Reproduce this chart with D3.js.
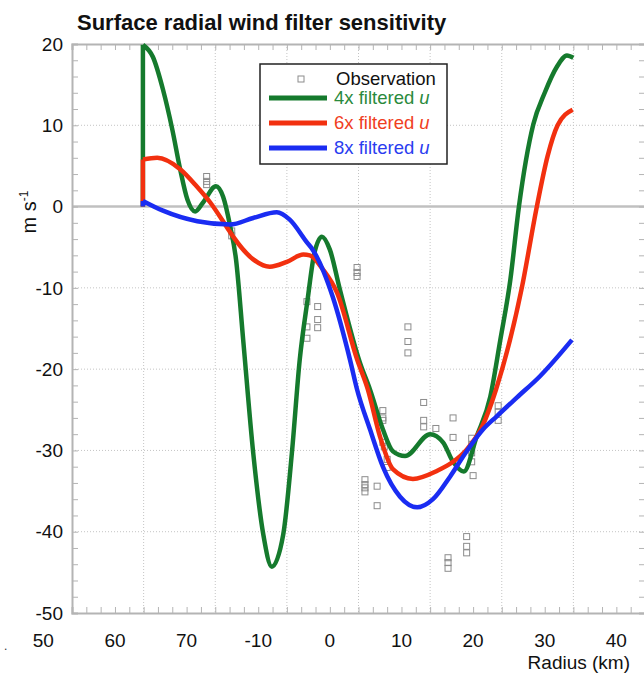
<!DOCTYPE html>
<html>
<head>
<meta charset="utf-8">
<script src="https://cdn.jsdelivr.net/npm/d3@7"></script>
<style>
  body { margin: 0; background: #fff; }
  svg { display: block; font-family: Arial, "Liberation Sans", sans-serif; }
</style>
</head>
<body>
<svg id="chart" width="644" height="675"></svg>
<script>
// ---- data (radius in km, wind in m/s) ----
var gridKm = [-40, -30, -20, -10, 0, 10, 20, 30, 40];
var xTickLabels = ["50", "60", "70", "-10", "0", "10", "20", "30", "40"];
var yTicks = [20, 10, 0, -10, -20, -30, -40, -50];

var filter4x = [[-30.1, 0], [-30.1, 19.9], [-28.7, 18.4], [-27.3, 14.4], [-26.0, 9.5], [-24.9, 4.6],
  [-23.9, 0.9], [-22.8, -0.6], [-21.7, 0.5], [-19.9, 2.5], [-18.9, 1.2], [-17.9, -2.5], [-17.1, -6.5],
  [-16.1, -16.4], [-14.7, -30.3], [-13.3, -40.3], [-12.1, -44.3], [-10.5, -40.3], [-9.3, -30.3],
  [-8.2, -18.8], [-7.1, -11.4], [-6.2, -5.9], [-5.1, -3.7], [-4.0, -5.3], [-2.6, -10.2], [0.2, -19.2],
  [1.6, -22.5], [3.4, -27.4], [4.8, -30.1], [6.5, -30.7], [10.0, -28.0], [11.8, -29.0], [13.2, -31.4],
  [14.7, -32.6], [16.5, -28.3], [18.4, -23.4], [19.8, -16.4], [21.2, -9.0], [22.4, 0], [24.4, 10.1],
  [26.0, 14.0], [27.7, 17.2], [29.1, 18.6], [30.0, 18.3]];

var filter6x = [[-30.1, 0], [-30.1, 5.8], [-28.1, 6.0], [-24.9, 4.6], [-22.6, 2.5], [-20.7, 0.5],
  [-18.4, -2.5], [-17.5, -3.7], [-14.7, -6.5], [-12.4, -7.4], [-10.0, -6.8], [-7.7, -5.9], [-6.8, -6.0],
  [-5.0, -7.7], [-3.0, -10.6], [-0.2, -18.8], [1.3, -22.5], [3.0, -28.3], [4.8, -32.3], [7.6, -33.5],
  [11.0, -32.5], [13.2, -31.4], [15.1, -29.9], [17.3, -27.0], [19.2, -22.5], [22.8, -10.0], [24.9, 0],
  [26.4, 6.2], [27.8, 10.0], [29.9, 11.9]];

var filter8x = [[-30.1, 0], [-30.1, 0.7], [-27.3, -0.5], [-22.5, -1.8], [-17.9, -2.2], [-14.7, -1.4],
  [-11.4, -0.7], [-9.6, -1.6], [-7.2, -4.4], [-6.4, -5.3], [-3.6, -11.1], [-1.2, -18.8], [-0.2, -22.5],
  [1.6, -27.4], [3.4, -32.0], [5.8, -35.7], [8.2, -37.0], [10.4, -36.0], [12.8, -33.2], [15.1, -30.1],
  [17.4, -27.4], [19.3, -25.8], [22.1, -23.5], [25.3, -20.9], [29.8, -16.4]];

var observations = [[-21.2, 3.7], [-21.2, 3.1], [-21.2, 2.7], [-17.7, -3.0], [-17.7, -3.6],
  [-7.2, -11.7], [-5.7, -12.3], [-5.7, -13.9], [-5.7, -14.9], [-7.2, -14.8], [-7.2, -16.2],
  [-0.2, -7.5], [-0.2, -8.1], [-0.2, -8.6], [6.9, -14.8], [6.9, -16.6], [6.9, -18.0],
  [9.1, -24.1], [9.1, -26.3], [9.1, -27.1], [10.8, -27.3], [13.2, -26.0], [13.2, -28.4],
  [3.4, -25.1], [3.4, -26.0], [3.4, -26.3], [3.4, -29.0], [3.6, -29.5], [4.0, -31.1], [4.0, -32.1],
  [15.8, -28.5], [15.8, -29.3], [15.8, -30.3], [15.8, -31.4], [16.0, -33.1],
  [19.5, -24.5], [19.5, -25.3], [19.5, -26.3],
  [0.9, -33.6], [0.9, -34.2], [0.9, -34.6], [0.9, -35.1], [2.6, -34.4], [2.6, -36.8],
  [15.1, -40.6], [15.1, -41.8], [15.1, -42.6], [12.5, -43.2], [12.5, -43.8], [12.5, -44.5]];

var seriesNames = ["4x filtered", "6x filtered", "8x filtered"];
var seriesColors = ["#157a2d", "#f2300f", "#1a2cf2"];
var textColors = ["#2a8a3c", "#f0401e", "#2a3cf0"];

// ---- layout ----
var svg = d3.select("#chart"),
    margin = {top: 44, right: -1, bottom: 62, left: 72},
    width = 644 - margin.left - margin.right,
    height = 675 - margin.top - margin.bottom,
    g = svg.append("g").attr("transform", "translate(" + margin.left + "," + margin.top + ")");

var x = d3.scaleLinear().domain([-40, 40]).range([0, width]);
var y = d3.scaleLinear().domain([-50, 20]).range([height, 0]);

var frameColor = "#b4b4b4";

// dotted grid
g.selectAll(".vgrid")
  .data(gridKm.slice(1, -1))
  .enter().append("line")
    .attr("x1", function(d) { return x(d); })
    .attr("x2", function(d) { return x(d); })
    .attr("y1", 0).attr("y2", height)
    .attr("stroke", "#c4c4c4").attr("stroke-width", 1).attr("stroke-dasharray", "1,2");

g.selectAll(".hgrid")
  .data(yTicks.filter(function(d) { return d != 0 && d != 20 && d != -50; }))
  .enter().append("line")
    .attr("x1", 0).attr("x2", width)
    .attr("y1", function(d) { return y(d); })
    .attr("y2", function(d) { return y(d); })
    .attr("stroke", "#c4c4c4").attr("stroke-width", 1).attr("stroke-dasharray", "1,2");

// zero line
g.append("line")
  .attr("x1", 0).attr("x2", width)
  .attr("y1", y(0)).attr("y2", y(0))
  .attr("stroke", "#c0c0c0").attr("stroke-width", 2.5);

// minor ticks (every 2 units) on all four sides
var minorX = d3.range(-40, 41, 2), minorY = d3.range(-50, 21, 2);
g.append("g").attr("class", "axis top")
  .call(d3.axisTop(x).tickValues(minorX).tickSize(-6).tickFormat(""));
g.append("g").attr("class", "axis bottom")
  .attr("transform", "translate(0," + height + ")")
  .call(d3.axisBottom(x).tickValues(minorX).tickSize(-6).tickFormat(""));
g.append("g").attr("class", "axis left")
  .call(d3.axisLeft(y).tickValues(minorY).tickSize(-6).tickFormat(""));
g.append("g").attr("class", "axis right")
  .attr("transform", "translate(" + width + ",0)")
  .call(d3.axisRight(y).tickValues(minorY).tickSize(-6).tickFormat(""));
g.selectAll(".axis path").attr("stroke", frameColor).attr("stroke-width", 2);
g.selectAll(".axis line").attr("stroke", frameColor).attr("stroke-width", 1);

// y tick labels
g.selectAll(".ylab")
  .data(yTicks)
  .enter().append("text")
    .attr("x", -9)
    .attr("y", function(d) { return y(d); })
    .attr("dy", "0.35em")
    .attr("text-anchor", "end")
    .style("font-size", "19px")
    .attr("fill", "#111")
    .text(function(d) { return d; });

// x tick labels (they sit left of the grid lines in the original)
g.selectAll(".xlab")
  .data(xTickLabels)
  .enter().append("text")
    .attr("x", function(d, i) { return x(gridKm[i] - 4); })
    .attr("y", height + 34)
    .attr("text-anchor", "middle")
    .style("font-size", "19px")
    .attr("fill", "#111")
    .text(function(d) { return d; });

// observations first (under the lines)
g.selectAll(".obs")
  .data(observations)
  .enter().append("rect")
    .attr("x", function(d) { return x(d[0]) - 3; })
    .attr("y", function(d) { return y(d[1]) - 3; })
    .attr("width", 6).attr("height", 6)
    .attr("fill", "none")
    .attr("stroke", "#8c8c8c").attr("stroke-width", 1);

// each curve: straight jump up from zero at the inner edge, then a smooth line
var jump = d3.line()
  .x(function(d) { return x(d[0]); })
  .y(function(d) { return y(d[1]); });
var smooth = d3.line()
  .x(function(d) { return x(d[0]); })
  .y(function(d) { return y(d[1]); })
  .curve(d3.curveMonotoneX);

var allSeries = [filter4x, filter6x, filter8x];
g.selectAll(".series")
  .data(allSeries)
  .enter().append("path")
    .attr("fill", "none")
    .attr("stroke", function(d, i) { return seriesColors[i]; })
    .attr("stroke-width", 4.5)
    .attr("stroke-linejoin", "round")
    .attr("d", function(d) { return jump(d.slice(0, 2)) + smooth(d.slice(1)); });

// legend
var legend = svg.append("g").attr("transform", "translate(260,64)");
legend.append("rect")
  .attr("width", 187).attr("height", 100)
  .attr("fill", "#fff").attr("stroke", "#222").attr("stroke-width", 1.5);
legend.append("rect")
  .attr("x", 38).attr("y", 12).attr("width", 6).attr("height", 6)
  .attr("fill", "none").attr("stroke", "#8c8c8c");
legend.append("text")
  .attr("x", 76).attr("y", 21)
  .style("font-size", "18.5px").attr("fill", "#111")
  .text("Observation");

var rows = legend.selectAll(".row")
  .data(seriesNames)
  .enter().append("g")
    .attr("transform", function(d, i) { return "translate(0," + (34 + i * 25) + ")"; });
rows.append("line")
  .attr("x1", 9).attr("x2", 67)
  .attr("stroke", function(d, i) { return seriesColors[i]; })
  .attr("stroke-width", 5);
var rowText = rows.append("text")
  .attr("x", 74).attr("dy", "0.35em")
  .style("font-size", "18.5px")
  .attr("fill", function(d, i) { return textColors[i]; });
rowText.append("tspan").text(function(d) { return d + " "; });
rowText.append("tspan").style("font-style", "italic").text("u");

// titles
svg.append("text")
  .attr("x", 77).attr("y", 30)
  .style("font-size", "22px").style("font-weight", "bold")
  .attr("fill", "#111")
  .text("Surface radial wind filter sensitivity");

var ylab = svg.append("text")
  .attr("transform", "translate(36,212) rotate(-90)")
  .attr("text-anchor", "middle")
  .style("font-size", "20px").attr("fill", "#111");
ylab.append("tspan").text("m s");
ylab.append("tspan").attr("dy", -8).style("font-size", "12px").text("-1");

svg.append("text")
  .attr("x", 630).attr("y", 669)
  .attr("text-anchor", "end")
  .style("font-size", "19px").attr("fill", "#111")
  .text("Radius (km)");

svg.append("text")
  .attr("x", 4).attr("y", 650)
  .style("font-size", "12px").attr("fill", "#333")
  .text(".");
</script>
</body>
</html>
